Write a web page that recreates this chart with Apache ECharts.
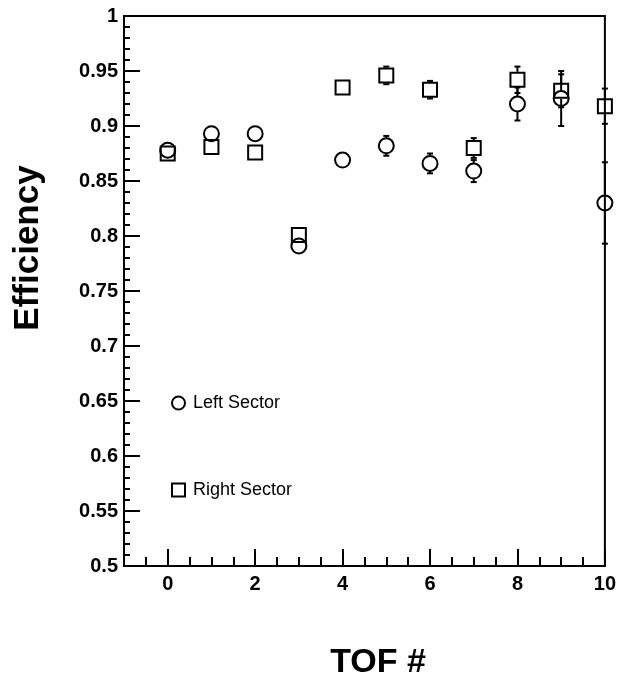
<!DOCTYPE html>
<html>
<head>
<meta charset="utf-8">
<title>TOF efficiency</title>
<script src="https://cdn.jsdelivr.net/npm/echarts@6/dist/echarts.min.js"></script>
<style>
  html, body { margin: 0; padding: 0; background: #fff; }
  #chart { width: 619px; height: 682px; }
</style>
</head>
<body>
<div id="chart"></div>
<script>
// TOF counter numbers
const tofIndex = [0, 1, 2, 3, 4, 5, 6, 7, 8, 9, 10];

// left sector (circles)
const leftEff = [0.878, 0.893, 0.893, 0.791, 0.869, 0.882, 0.866, 0.859, 0.920, 0.925, 0.830];
const leftErr = [0.003, 0.002, 0.002, 0.002, 0.002, 0.009, 0.009, 0.010, 0.015, 0.025, 0.037];

// right sector (squares)
const rightEff = [0.875, 0.881, 0.876, 0.801, 0.935, 0.946, 0.933, 0.880, 0.942, 0.932, 0.918];
const rightErr = [0.002, 0.002, 0.002, 0.002, 0.003, 0.008, 0.008, 0.009, 0.012, 0.015, 0.016];

// labelled ticks on the x axis
const xMajorTicks = [0, 2, 4, 6, 8, 10];

const FONT = 'Liberation Sans, Arial, Helvetica, sans-serif';
const MARK = 14;

const chart = echarts.init(document.getElementById('chart'), null, { renderer: 'canvas' });

const pairs = (ys) => tofIndex.map((x, i) => [x, ys[i]]);
const triples = (ys, es) => tofIndex.map((x, i) => [x, ys[i], es[i]]);

// error bar drawn only outside the marker
const errorBarItem = (params, api) => {
  const x = api.value(0), y = api.value(1), e = api.value(2);
  const c = api.coord([x, y]);
  const hi = api.coord([x, y + e]);
  const lo = api.coord([x, y - e]);
  const r = MARK / 2 + 1;
  const style = { stroke: '#000', lineWidth: 2 };
  const kids = [];
  if (c[1] - hi[1] > r) {
    kids.push({ type: 'line', shape: { x1: c[0], y1: hi[1], x2: c[0], y2: c[1] - r }, style });
    kids.push({ type: 'line', shape: { x1: c[0] - 3, y1: hi[1], x2: c[0] + 3, y2: hi[1] }, style });
  }
  if (lo[1] - c[1] > r) {
    kids.push({ type: 'line', shape: { x1: c[0], y1: c[1] + r, x2: c[0], y2: lo[1] }, style });
    kids.push({ type: 'line', shape: { x1: c[0] - 3, y1: lo[1], x2: c[0] + 3, y2: lo[1] }, style });
  }
  return { type: 'group', children: kids };
};

const option = {
  animation: false,
  backgroundColor: '#fff',
  grid: {
    left: 124, right: 12, top: 16, bottom: 116,
    show: true, borderColor: '#000', borderWidth: 2, backgroundColor: 'transparent'
  },
  legend: {
    orient: 'vertical',
    left: 166, top: 389,
    itemGap: 69,
    itemWidth: 13, itemHeight: 13,
    selectedMode: false,
    data: [
      { name: 'Left Sector', icon: 'circle' },
      { name: 'Right Sector', icon: 'rect' }
    ],
    itemStyle: { color: 'rgba(0,0,0,0)', borderColor: '#000', borderWidth: 2 },
    textStyle: { fontFamily: FONT, fontSize: 18, color: '#000', lineHeight: 17, padding: [0, 0, 0, 3] }
  },
  xAxis: [
    {
      type: 'value', min: -1, max: 10, interval: 0.5,
      axisLine: { onZero: false, lineStyle: { color: '#000', width: 2 } },
      axisTick: { inside: true, length: 9, lineStyle: { color: '#000', width: 2 } },
      axisLabel: { show: false },
      splitLine: { show: false }
    },
    {
      type: 'value', min: -1, max: 10, position: 'bottom',
      axisLine: { show: false, onZero: false },
      axisTick: { inside: true, length: 17, customValues: xMajorTicks, lineStyle: { color: '#000', width: 2 } },
      axisLabel: {
        customValues: xMajorTicks, margin: 8,
        fontFamily: FONT, fontSize: 20, fontWeight: 'bold', color: '#000'
      },
      splitLine: { show: false }
    }
  ],
  yAxis: {
    type: 'value', min: 0.5, max: 1, interval: 0.05,
    axisLine: { onZero: false, lineStyle: { color: '#000', width: 2 } },
    axisTick: { inside: true, length: 16, lineStyle: { color: '#000', width: 2 } },
    minorTick: { show: true, splitNumber: 5, length: 6, lineStyle: { color: '#000', width: 2 } },
    axisLabel: {
      margin: 6, fontFamily: FONT, fontSize: 20, fontWeight: 'bold', color: '#000',
      formatter: (v) => String(+v.toFixed(2))
    },
    splitLine: { show: false }
  },
  graphic: [
    {
      type: 'text', x: 28, y: 248, rotation: Math.PI / 2,
      style: {
        text: 'Efficiency', fill: '#000', textAlign: 'center', textVerticalAlign: 'middle',
        font: 'bold 35px ' + FONT
      }
    },
    {
      type: 'text', x: 378, y: 663,
      style: {
        text: 'TOF #', fill: '#000', textAlign: 'center', textVerticalAlign: 'middle',
        font: 'bold 34px ' + FONT
      }
    }
  ],
  series: [
    {
      type: 'custom', name: 'Right err', xAxisIndex: 0, yAxisIndex: 0,
      renderItem: errorBarItem, encode: { x: 0, y: 1 },
      data: triples(rightEff, rightErr), silent: true, z: 1
    },
    {
      type: 'custom', name: 'Left err', xAxisIndex: 0, yAxisIndex: 0,
      renderItem: errorBarItem, encode: { x: 0, y: 1 },
      data: triples(leftEff, leftErr), silent: true, z: 1
    },
    {
      type: 'scatter', name: 'Right Sector', xAxisIndex: 0, yAxisIndex: 0,
      symbol: 'rect', symbolSize: MARK,
      itemStyle: { color: 'rgba(0,0,0,0)', borderColor: '#000', borderWidth: 2, opacity: 1 },
      emphasis: { disabled: true },
      data: pairs(rightEff), z: 2
    },
    {
      type: 'scatter', name: 'Left Sector', xAxisIndex: 0, yAxisIndex: 0,
      symbol: 'circle', symbolSize: MARK + 1,
      itemStyle: { color: 'rgba(0,0,0,0)', borderColor: '#000', borderWidth: 2, opacity: 1 },
      emphasis: { disabled: true },
      data: pairs(leftEff), z: 3
    }
  ]
};

chart.setOption(option);
</script>
</body>
</html>
